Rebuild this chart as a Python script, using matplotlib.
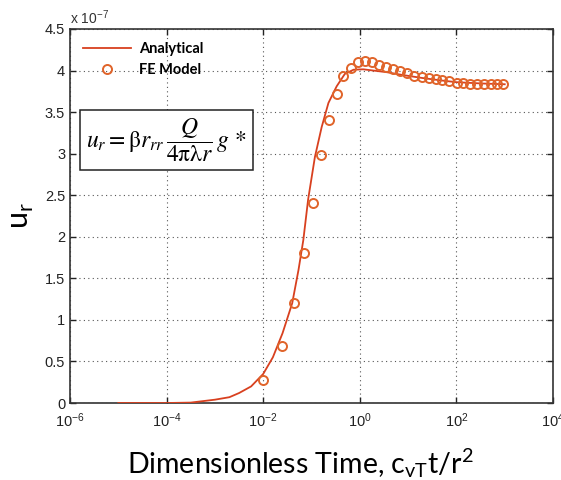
import numpy as np
import matplotlib
matplotlib.use("Agg")
import matplotlib.pyplot as plt
from matplotlib.ticker import FixedLocator, FormatStrFormatter, NullLocator

# analytical solution, log10 of dimensionless time vs u_r (x 1e-7)
ana_logt = [-5.0, -4.0, -3.5, -3.0, -2.7, -2.5, -2.25, -2.0, -1.8, -1.6, -1.4, -1.27,
            -1.17, -1.07, -0.93, -0.79, -0.65, -0.48, -0.31, -0.13, 0.07, 0.28, 0.56,
            0.9, 1.3, 1.7, 2.0, 2.5, 3.0]
ana_u = [0.0, 0.0, 0.005, 0.04, 0.07, 0.12, 0.2, 0.35, 0.55, 0.84, 1.2, 1.6,
         1.96, 2.45, 2.96, 3.32, 3.61, 3.81, 3.96, 4.01, 4.015, 4.0, 3.98,
         3.945, 3.91, 3.88, 3.86, 3.845, 3.835]

# finite element results
fe_logt = [-2.01, -1.617, -1.356, -1.149, -0.969, -0.803, -0.638, -0.472, -0.342,
           -0.182, -0.037, 0.108, 0.246, 0.398, 0.542, 0.693, 0.832, 0.971, 1.128,
           1.282, 1.427, 1.571, 1.708, 1.853, 2.006, 2.143, 2.282, 2.433, 2.571,
           2.71, 2.847, 2.971]
fe_u = [0.28, 0.69, 1.20, 1.80, 2.41, 2.98, 3.41, 3.72, 3.93,
        4.03, 4.10, 4.115, 4.10, 4.07, 4.047, 4.02, 3.99, 3.967, 3.939,
        3.919, 3.907, 3.895, 3.883, 3.871, 3.854, 3.847, 3.842, 3.842, 3.839,
        3.835, 3.835, 3.835]

xticks = [1e-6, 1e-4, 1e-2, 1e0, 1e2, 1e4]
xticklabels = [r"10$^{-6}$", r"10$^{-4}$", r"10$^{-2}$", r"10$^{0}$", r"10$^{2}$", r"10$^{4}$"]
yticks = [0, 0.5, 1, 1.5, 2, 2.5, 3, 3.5, 4, 4.5]

plt.rcParams["font.family"] = ["Liberation Sans", "DejaVu Sans"]
plt.rcParams["mathtext.fontset"] = "custom"
plt.rcParams["mathtext.rm"] = "Liberation Sans"
plt.rcParams["mathtext.it"] = "Liberation Sans:italic"

fig = plt.figure(figsize=(5.61, 4.8), dpi=100)
ax = fig.add_axes([0.1248, 0.1604, 0.861, 0.7792])

ax.plot(10 ** np.array(ana_logt), ana_u, color="#d8401f", lw=1.3, label="Analytical", zorder=3)
ax.plot(10 ** np.array(fe_logt), fe_u, ls="none", marker="o", ms=6.5, mfc="none",
        mec="#e0642a", mew=1.4, label="FE Model", zorder=4)

ax.set_xscale("log")
ax.set_xlim(1e-6, 1e4)
ax.set_ylim(0, 4.5)
ax.xaxis.set_major_locator(FixedLocator(xticks))
ax.xaxis.set_minor_locator(NullLocator())
ax.set_xticklabels(xticklabels)
ax.set_yticks(yticks)
ax.yaxis.set_major_formatter(FormatStrFormatter("%g"))

ax.tick_params(direction="in", top=True, right=True, length=4, width=1,
               labelsize=10.5, colors="#222222")
ax.tick_params(axis="x", pad=6)
for s in ax.spines.values():
    s.set_linewidth(1.2)
    s.set_color("#333333")
ax.grid(True, ls=(0, (1, 3)), color="#555555", lw=0.8)

ax.text(0.0, 1.005, r"x 10$^{-7}$", transform=ax.transAxes, fontsize=10,
        ha="left", va="bottom", color="#333333")

leg = ax.legend(loc="upper left", frameon=False,
                prop={"family": "Lato", "weight": "bold", "size": 10.5},
                handlelength=3.3, borderaxespad=0.5, labelspacing=0.45, handletextpad=0.55)

# equation box
ax.text(0.033, 0.703,
        r"$u_r = \mathrm{\beta} r_{rr}\,\dfrac{Q}{4\mathrm{\pi}\mathrm{\lambda} r}\,g\,*$",
        transform=ax.transAxes, fontsize=17, ha="left", va="center",
        math_fontfamily="stix",
        bbox=dict(boxstyle="square,pad=0.25", fc="white", ec="#222222", lw=1.1))

ax.set_ylabel(r"u$_\mathregular{r}$", fontsize=22, family="Lato", labelpad=6)
ax.set_xlabel(r"Dimensionless Time, c$_\mathregular{vT}$t/r$^\mathregular{2}$",
              fontsize=20.5, family="Lato")
ax.xaxis.set_label_coords(0.476, -0.115)

fig.savefig("out.png", dpi=100)
